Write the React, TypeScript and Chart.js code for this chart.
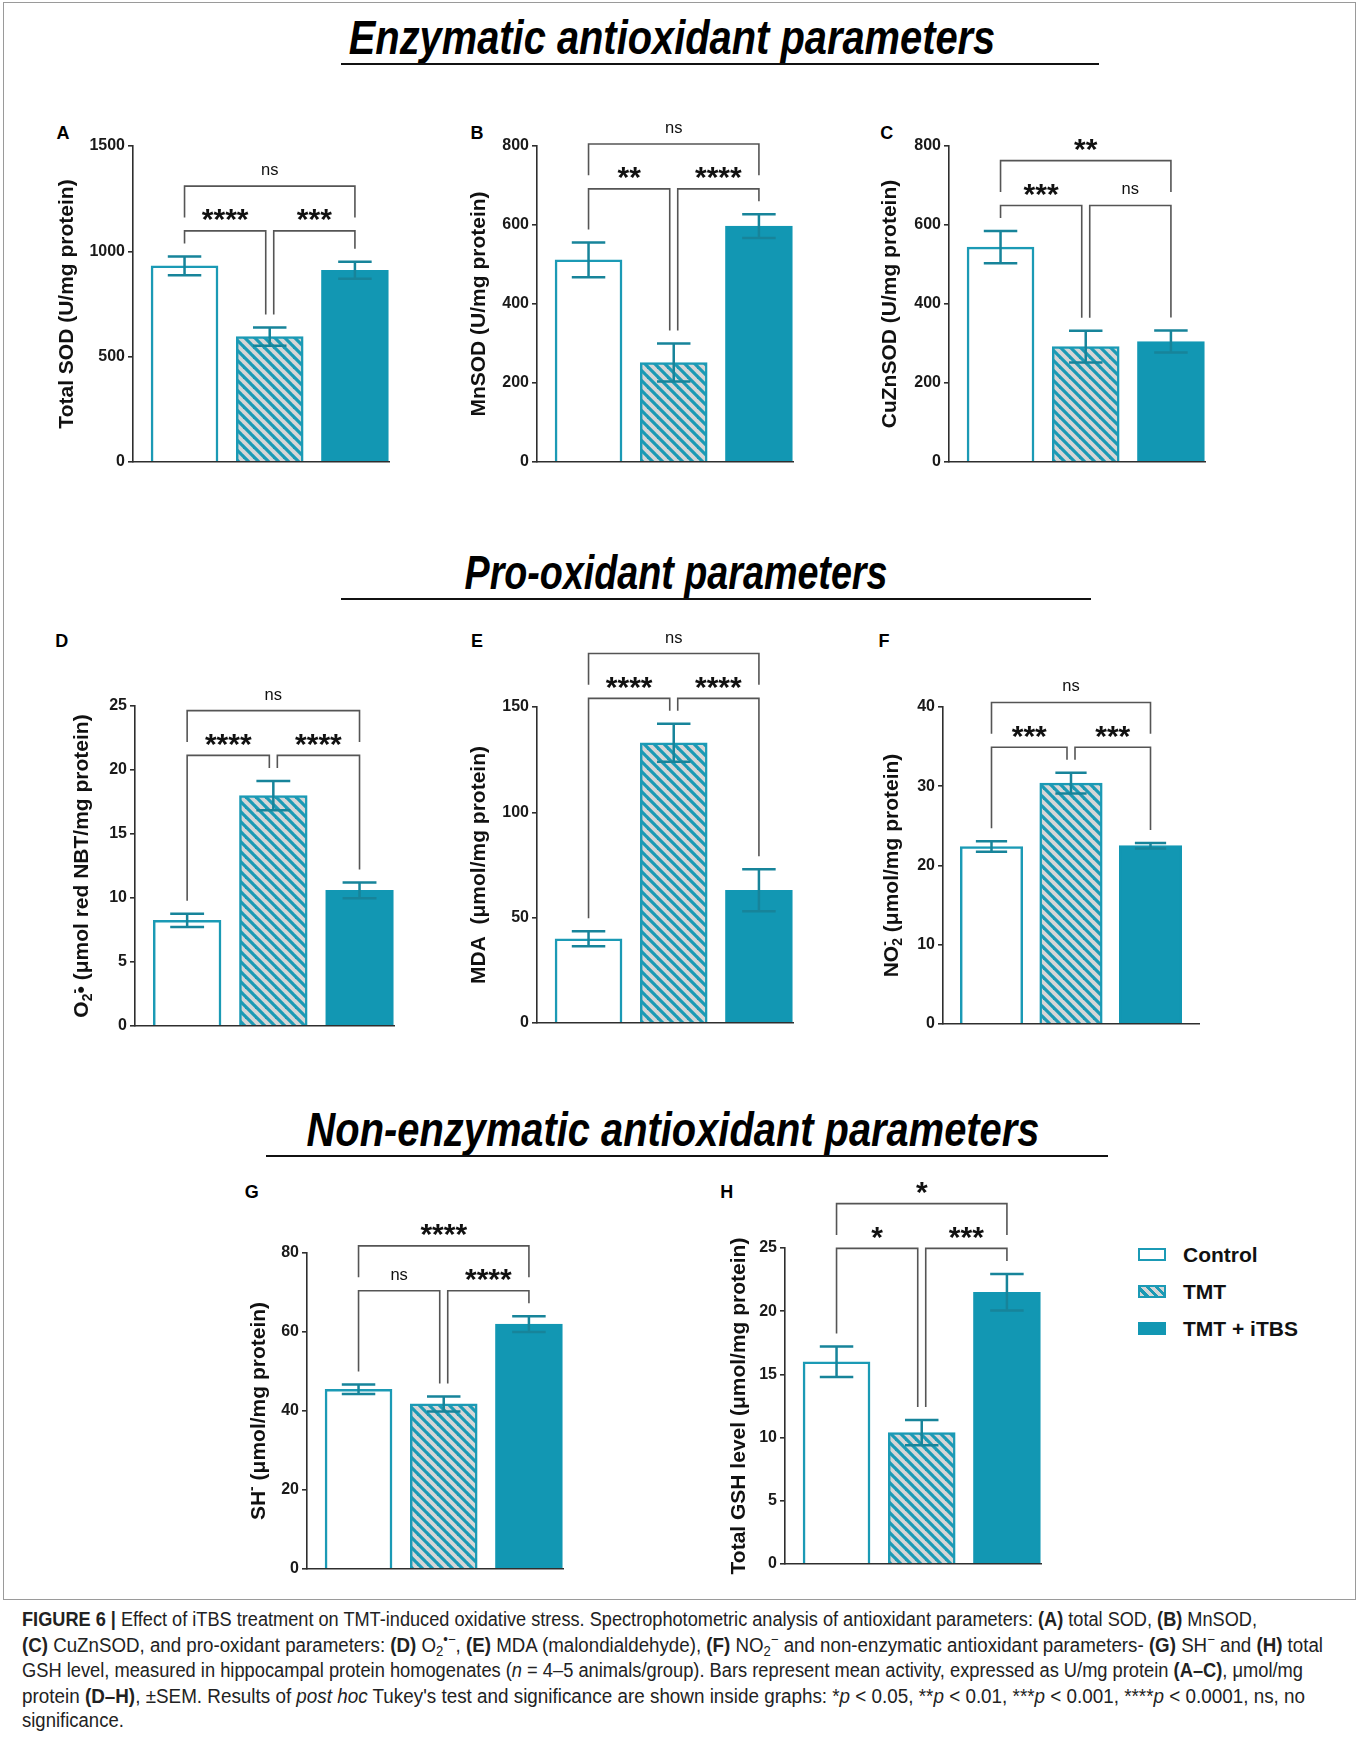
import React, { useEffect, useLayoutEffect, useRef, useState } from 'react';
import { Chart, registerables } from 'chart.js';

Chart.register(...registerables);

// ---------------- DATA ----------------
const GROUPS = ['Control', 'TMT', 'TMT + iTBS'];

// significance order: [Control vs TMT, TMT vs TMT+iTBS, Control vs TMT+iTBS]
const A_MEAN = [931, 595, 910];
const A_SEM = [45, 43, 40];
const A_SIG = ['****', '***', 'ns'];
const A_TICKS = [0, 500, 1000, 1500];

const B_MEAN = [512, 252, 597];
const B_SEM = [44, 48, 30];
const B_SIG = ['**', '****', 'ns'];
const B_TICKS = [0, 200, 400, 600, 800];

const C_MEAN = [544, 292, 305];
const C_SEM = [41, 40, 28];
const C_SIG = ['***', 'ns', '**'];
const C_TICKS = [0, 200, 400, 600, 800];

const D_MEAN = [8.25, 18.0, 10.6];
const D_SEM = [0.52, 1.15, 0.62];
const D_SIG = ['****', '****', 'ns'];
const D_TICKS = [0, 5, 10, 15, 20, 25];

const E_MEAN = [40, 133, 63];
const E_SEM = [3.6, 9, 10];
const E_SIG = ['****', '****', 'ns'];
const E_TICKS = [0, 50, 100, 150];

const F_MEAN = [22.4, 30.4, 22.5];
const F_SEM = [0.65, 1.3, 0.35];
const F_SIG = ['***', '***', 'ns'];
const F_TICKS = [0, 10, 20, 30, 40];

const G_MEAN = [45.5, 41.8, 62];
const G_SEM = [1.2, 1.9, 2.0];
const G_SIG = ['ns', '****', '****'];
const G_TICKS = [0, 20, 40, 60, 80];

const H_MEAN = [16.0, 10.4, 21.5];
const H_SEM = [1.2, 1.0, 1.45];
const H_SIG = ['*', '***', '*'];
const H_TICKS = [0, 5, 10, 15, 20, 25];

type Seg = { t: string; sub?: boolean; sup?: boolean; stack?: boolean };

const A_YLABEL: Seg[] = [{ t: 'Total SOD (U/mg protein)' }];
const B_YLABEL: Seg[] = [{ t: 'MnSOD (U/mg protein)' }];
const C_YLABEL: Seg[] = [{ t: 'CuZnSOD (U/mg protein)' }];
const D_YLABEL: Seg[] = [
  { t: 'O' }, { t: '2', sub: true }, { t: '•' }, { t: '-', sup: true, stack: true },
  { t: ' (μmol red NBT/mg protein)' },
];
const E_YLABEL: Seg[] = [{ t: 'MDA  (μmol/mg protein)' }];
const F_YLABEL: Seg[] = [
  { t: 'NO' }, { t: '2', sub: true }, { t: '-', sup: true, stack: true }, { t: ' (μmol/mg protein)' },
];
const G_YLABEL: Seg[] = [{ t: 'SH' }, { t: '-', sup: true }, { t: ' (μmol/mg protein)' }];
const H_YLABEL: Seg[] = [{ t: 'Total GSH level (μmol/mg protein)' }];

const SECTION_TITLES = [
  'Enzymatic antioxidant parameters',
  'Pro-oxidant parameters',
  'Non-enzymatic antioxidant parameters',
];

// ---------------- STYLE ----------------
const TEAL = '#1297b3';
const TEAL_LINE = '#1b9ab5';
const ERR_COLOR = '#17849a';
const HATCH_BG = '#d6d6d6';
const AXIS_COLOR = '#2e2e2e';
const BRACKET_COLOR = '#555555';
const FONT = '"Liberation Sans", Arial, Helvetica, sans-serif';
const BAR_FRACTION = 0.786;

const W = 130; // y-scale box width
const PT = 100; // top padding (room for brackets)
const PB = 20;
const PR = 24;

type PanelCfg = {
  key: string;
  mean: number[];
  sem: number[];
  sig: string[];
  ticks: number[];
  ylabel: Seg[];
  axisX: number;
  topY: number;
  zeroY: number;
  axisEnd: number;
  xMin: number;
  xMax: number;
  labelOff: number;
  letter: [number, number];
};

const PANELS: PanelCfg[] = [
  { key: 'A', mean: A_MEAN, sem: A_SEM, sig: A_SIG, ticks: A_TICKS, ylabel: A_YLABEL, axisX: 133, topY: 146, zeroY: 462.3, axisEnd: 389, xMin: -0.605, xMax: 2.4, labelOff: 67.7, letter: [63, 133] },
  { key: 'B', mean: B_MEAN, sem: B_SEM, sig: B_SIG, ticks: B_TICKS, ylabel: B_YLABEL, axisX: 537, topY: 146, zeroY: 462.3, axisEnd: 793.3, xMin: -0.605, xMax: 2.4, labelOff: 60, letter: [477, 133] },
  { key: 'C', mean: C_MEAN, sem: C_SEM, sig: C_SIG, ticks: C_TICKS, ylabel: C_YLABEL, axisX: 949, topY: 146, zeroY: 462.3, axisEnd: 1205, xMin: -0.605, xMax: 2.4, labelOff: 61, letter: [886.7, 133] },
  { key: 'D', mean: D_MEAN, sem: D_SEM, sig: D_SIG, ticks: D_TICKS, ylabel: D_YLABEL, axisX: 135, topY: 706, zeroY: 1026, axisEnd: 394, xMin: -0.605, xMax: 2.4, labelOff: 55, letter: [61.7, 640.7] },
  { key: 'E', mean: E_MEAN, sem: E_SEM, sig: E_SIG, ticks: E_TICKS, ylabel: E_YLABEL, axisX: 537, topY: 707, zeroY: 1023.3, axisEnd: 792.7, xMin: -0.605, xMax: 2.4, labelOff: 60, letter: [477, 640.7] },
  { key: 'F', mean: F_MEAN, sem: F_SEM, sig: F_SIG, ticks: F_TICKS, ylabel: F_YLABEL, axisX: 943, topY: 707, zeroY: 1023.7, axisEnd: 1199.3, xMin: -0.61, xMax: 2.61, labelOff: 53, letter: [884, 640.7] },
  { key: 'G', mean: G_MEAN, sem: G_SEM, sig: G_SIG, ticks: G_TICKS, ylabel: G_YLABEL, axisX: 307, topY: 1253, zeroY: 1568.7, axisEnd: 563.3, xMin: -0.605, xMax: 2.4, labelOff: 50, letter: [251.7, 1191.7] },
  { key: 'H', mean: H_MEAN, sem: H_SEM, sig: H_SIG, ticks: H_TICKS, ylabel: H_YLABEL, axisX: 785, topY: 1248, zeroY: 1564, axisEnd: 1041, xMin: -0.605, xMax: 2.4, labelOff: 48, letter: [726.7, 1191.7] },
];

function makeHatch(): CanvasPattern | string {
  const c = document.createElement('canvas');
  const s = 10;
  c.width = s;
  c.height = s;
  const g = c.getContext('2d');
  if (!g) return HATCH_BG;
  g.fillStyle = HATCH_BG;
  g.fillRect(0, 0, s, s);
  g.strokeStyle = TEAL_LINE;
  g.lineWidth = 3.2;
  for (const c0 of [-s, 0, s]) {
    g.beginPath();
    g.moveTo(-2, c0 - 2);
    g.lineTo(s + 2, c0 + s + 2);
    g.stroke();
  }
  return g.createPattern(c, 'repeat') || HATCH_BG;
}

function drawRich(ctx: CanvasRenderingContext2D, segs: Seg[], cx: number, cy: number, size: number) {
  const small = Math.round(size * 0.66);
  const fontOf = (s: Seg) => `bold ${s.sub || s.sup ? small : size}px ${FONT}`;
  const pos: { x: number; w: number }[] = [];
  let x = 0;
  let prevStart = 0;
  let prevW = 0;
  segs.forEach((s) => {
    ctx.font = fontOf(s);
    const w = ctx.measureText(s.t).width;
    if (s.stack) {
      pos.push({ x: prevStart, w });
      x = prevStart + Math.max(prevW, w);
    } else {
      pos.push({ x, w });
      prevStart = x;
      prevW = w;
      x += w;
    }
  });
  const total = x;
  ctx.save();
  ctx.translate(cx, cy);
  ctx.rotate(-Math.PI / 2);
  ctx.fillStyle = '#111';
  ctx.textBaseline = 'alphabetic';
  ctx.textAlign = 'left';
  const base = size * 0.358;
  segs.forEach((s, i) => {
    ctx.font = fontOf(s);
    let dy = base;
    if (s.sub) dy += size * 0.22;
    if (s.sup) dy -= size * 0.42;
    ctx.fillText(s.t, -total / 2 + pos[i].x, dy);
  });
  ctx.restore();
}

function drawCenteredText(ctx: CanvasRenderingContext2D, text: string, cx: number, cy: number) {
  const isNs = /[a-z]/.test(text);
  ctx.font = isNs ? `16.5px ${FONT}` : `bold 30px ${FONT}`;
  ctx.fillStyle = '#111';
  ctx.textAlign = 'center';
  ctx.textBaseline = 'alphabetic';
  const m = ctx.measureText(text);
  const asc = m.actualBoundingBoxAscent;
  const desc = m.actualBoundingBoxDescent;
  ctx.fillText(text, cx, cy + (asc - desc) / 2);
}

function annotPlugin(p: PanelCfg) {
  return {
    id: 'annot' + p.key,
    afterDatasetsDraw(chart: any) {
      const { ctx } = chart;
      const y = chart.scales.y;
      const meta = chart.getDatasetMeta(0);
      ctx.save();
      ctx.strokeStyle = ERR_COLOR;
      ctx.lineWidth = 2.5;
      p.mean.forEach((m, i) => {
        const bar: any = meta.data[i];
        const cx = bar.x;
        const half = bar.width / 4;
        const yt = y.getPixelForValue(m + p.sem[i]);
        const yb = y.getPixelForValue(m - p.sem[i]);
        ctx.beginPath();
        ctx.moveTo(cx, yt);
        ctx.lineTo(cx, yb);
        ctx.moveTo(cx - half, yt);
        ctx.lineTo(cx + half, yt);
        ctx.moveTo(cx - half, yb);
        ctx.lineTo(cx + half, yb);
        ctx.stroke();
      });
      ctx.restore();
    },
    afterDraw(chart: any) {
      const { ctx, chartArea } = chart;
      const x = chart.scales.x;
      const y = chart.scales.y;
      const cxs = p.mean.map((_, i) => x.getPixelForValue(i));
      const errTop = p.mean.map((m, i) => y.getPixelForValue(m + p.sem[i]));
      const L = Math.min(...errTop) - 25.5;
      const T = L - 44.8;
      const br = [
        { x1: cxs[0], x2: cxs[1] - 4, yy: L, e1: errTop[0] - 13, e2: errTop[1] - 13, label: p.sig[0] },
        { x1: cxs[1] + 4, x2: cxs[2], yy: L, e1: errTop[1] - 13, e2: errTop[2] - 13, label: p.sig[1] },
        { x1: cxs[0], x2: cxs[2], yy: T, e1: L - 13.5, e2: L - 13.5, label: p.sig[2] },
      ];
      ctx.save();
      ctx.strokeStyle = BRACKET_COLOR;
      ctx.lineWidth = 1.6;
      br.forEach((b) => {
        ctx.beginPath();
        ctx.moveTo(b.x1, b.e1);
        ctx.lineTo(b.x1, b.yy);
        ctx.lineTo(b.x2, b.yy);
        ctx.lineTo(b.x2, b.e2);
        ctx.stroke();
        drawCenteredText(ctx, b.label, (b.x1 + b.x2) / 2, b.yy - 15.5);
      });
      drawRich(ctx, p.ylabel, chartArea.left - p.labelOff, (chartArea.top + chartArea.bottom) / 2, 21);
      ctx.restore();
    },
  };
}

function Panel({ p }: { p: PanelCfg }) {
  const ref = useRef<HTMLCanvasElement>(null);
  const ax = Math.round(p.axisX);
  const left = ax - W;
  const top = Math.round(p.topY) - PT;
  const areaH = Math.round(p.zeroY - p.topY);
  const areaW = Math.round(p.axisEnd - p.axisX);
  const width = W + areaW + PR;
  const height = PT + areaH + PB;

  useEffect(() => {
    const canvas = ref.current;
    if (!canvas) return;
    const hatch = makeHatch();
    const maxTick = p.ticks[p.ticks.length - 1];
    const barPx = (BAR_FRACTION * areaW) / (p.xMax - p.xMin);
    const chart = new Chart(canvas, {
      type: 'bar',
      data: {
        datasets: [
          {
            label: p.key,
            data: p.mean.map((v, i) => ({ x: i, y: v })) as any,
            backgroundColor: ['#ffffff', hatch as any, TEAL],
            borderColor: [TEAL_LINE, TEAL_LINE, TEAL],
            borderWidth: 2.5,
            borderSkipped: 'bottom',
            barThickness: barPx,
          },
        ],
      },
      options: {
        responsive: false,
        animation: false,
        events: [],
        layout: { padding: { top: PT, bottom: PB, left: 0, right: PR } },
        plugins: { legend: { display: false }, tooltip: { enabled: false }, title: { display: false } },
        scales: {
          x: {
            type: 'linear',
            offset: false,
            min: p.xMin,
            max: p.xMax,
            afterBuildTicks: (s: any) => {
              s.ticks = GROUPS.map((_, i) => ({ value: i }));
            },
            afterFit: (s: any) => {
              s.height = 0;
            },
            ticks: { display: false },
            grid: { display: false, offset: false },
            border: { display: true, color: AXIS_COLOR, width: 1.6, z: 1 },
          },
          y: {
            type: 'linear',
            min: 0,
            max: maxTick,
            afterBuildTicks: (s: any) => {
              s.ticks = p.ticks.map((v) => ({ value: v }));
            },
            afterFit: (s: any) => {
              s.width = W;
            },
            ticks: {
              callback: (v: any) => String(v),
              font: { family: FONT, size: 16, weight: 'bold' },
              color: '#1a1a1a',
              padding: 3,
            },
            grid: { display: true, drawOnChartArea: false, drawTicks: true, tickLength: 5, color: AXIS_COLOR, lineWidth: 1.6 },
            border: { display: true, color: AXIS_COLOR, width: 1.6, z: 1 },
          },
        },
      } as any,
      plugins: [annotPlugin(p)],
    });
    return () => chart.destroy();
  }, []);

  return (
    <canvas
      ref={ref}
      width={width}
      height={height}
      style={{ position: 'absolute', left, top, width, height }}
    />
  );
}

const subS: React.CSSProperties = { fontSize: '0.7em', verticalAlign: '-0.3em', lineHeight: 0 };
const supS: React.CSSProperties = { fontSize: '0.7em', verticalAlign: '0.55em', lineHeight: 0 };

const CAPTION_TOPS = [1606.5, 1632.5, 1657.5, 1683.5, 1707.5];
const CAPTION_WIDTHS = [1235, 1301, 1281, 1283, 0];

function Caption() {
  const refs = useRef<(HTMLSpanElement | null)[]>([]);
  const [scales, setScales] = useState<number[]>([1, 1, 1, 1, 1]);
  useLayoutEffect(() => {
    const s = refs.current.map((el, i) => {
      if (!el || !CAPTION_WIDTHS[i]) return 0;
      const w = el.getBoundingClientRect().width;
      return w > 0 ? CAPTION_WIDTHS[i] / w : 1;
    });
    const valid = s.filter((v) => v > 0);
    const avg = valid.reduce((a, b) => a + b, 0) / (valid.length || 1);
    setScales(s.map((v) => (v > 0 ? v : avg)));
  }, []);
  const lines: React.ReactNode[] = [
    <>
      <b>FIGURE 6 |</b> Effect of iTBS treatment on TMT-induced oxidative stress. Spectrophotometric analysis of antioxidant parameters: <b>(A)</b> total SOD, <b>(B)</b> MnSOD,
    </>,
    <>
      <b>(C)</b> CuZnSOD, and pro-oxidant parameters: <b>(D)</b> O<span style={subS}>2</span><span style={supS}>•−</span>, <b>(E)</b> MDA (malondialdehyde), <b>(F)</b> NO<span style={subS}>2</span><span style={supS}>−</span> and non-enzymatic antioxidant parameters- <b>(G)</b> SH<span style={supS}>−</span> and <b>(H)</b> total
    </>,
    <>
      GSH level, measured in hippocampal protein homogenates (<i>n</i> = 4–5 animals/group). Bars represent mean activity, expressed as U/mg protein <b>(A–C)</b>, μmol/mg
    </>,
    <>
      protein <b>(D–H)</b>, ±SEM. Results of <i>post hoc</i> Tukey's test and significance are shown inside graphs: *<i>p</i> &lt; 0.05, **<i>p</i> &lt; 0.01, ***<i>p</i> &lt; 0.001, ****<i>p</i> &lt; 0.0001, ns, no
    </>,
    <>significance.</>,
  ];
  return (
    <>
      {lines.map((ln, i) => (
        <div
          key={i}
          style={{ position: 'absolute', top: CAPTION_TOPS[i], left: 22, height: 25, lineHeight: '25px', whiteSpace: 'nowrap' }}
        >
          <span
            ref={(el) => {
              refs.current[i] = el;
            }}
            style={{
              display: 'inline-block',
              fontSize: 20,
              color: '#222',
              transformOrigin: 'left center',
              transform: `scaleX(${scales[i]})`,
            }}
          >
            {ln}
          </span>
        </div>
      ))}
    </>
  );
}

function SectionTitle({ text, cx, baseline, lineY, x1, x2, sx }: { text: string; cx: number; baseline: number; lineY: number; x1: number; x2: number; sx: number }) {
  const fs = 48;
  return (
    <>
      <div
        style={{
          position: 'absolute',
          left: cx,
          top: baseline - 0.8465 * fs,
          fontSize: fs,
          lineHeight: 1,
          fontWeight: 'bold',
          fontStyle: 'italic',
          whiteSpace: 'nowrap',
          color: '#000',
          transform: `translateX(-50%) scaleX(${sx})`,
        }}
      >
        {text}
      </div>
      <div style={{ position: 'absolute', left: x1, top: lineY - 1, width: x2 - x1, height: 2, background: '#111' }} />
    </>
  );
}

function LegendItem({ label, top, kind }: { label: string; top: number; kind: number }) {
  const bg =
    kind === 0
      ? '#ffffff'
      : kind === 1
      ? `repeating-linear-gradient(45deg, ${HATCH_BG} 0px, ${HATCH_BG} 3.5px, ${TEAL_LINE} 3.5px, ${TEAL_LINE} 6.5px)`
      : TEAL;
  return (
    <>
      <div
        style={{
          position: 'absolute',
          left: 1138,
          top: top - 6.5,
          width: 28,
          height: 13,
          boxSizing: 'border-box',
          border: `2.5px solid ${kind === 2 ? TEAL : TEAL_LINE}`,
          background: bg,
        }}
      />
      <div
        style={{
          position: 'absolute',
          left: 1183,
          top: top - 10.5,
          fontSize: 21,
          lineHeight: '21px',
          fontWeight: 'bold',
          color: '#111',
          whiteSpace: 'nowrap',
        }}
      >
        {label}
      </div>
    </>
  );
}

export default function App() {
  return (
    <div
      style={{
        position: 'absolute',
        left: 0,
        top: 0,
        width: 1360,
        height: 1737,
        background: '#fff',
        overflow: 'hidden',
        fontFamily: FONT,
      }}
    >
      {/* figure frame */}
      <div style={{ position: 'absolute', left: 3, top: 2, width: 1353, height: 1598, border: '1px solid #9a9a9a', boxSizing: 'border-box' }} />

      <SectionTitle text={SECTION_TITLES[0]} cx={672} baseline={55} lineY={64} x1={341} x2={1099} sx={0.83} />
      <SectionTitle text={SECTION_TITLES[1]} cx={676} baseline={590} lineY={599} x1={341} x2={1091} sx={0.785} />
      <SectionTitle text={SECTION_TITLES[2]} cx={673} baseline={1147} lineY={1156} x1={266} x2={1108} sx={0.83} />

      {PANELS.map((p) => (
        <div
          key={'L' + p.key}
          style={{
            position: 'absolute',
            left: p.letter[0],
            top: p.letter[1],
            fontSize: 18,
            lineHeight: 1,
            fontWeight: 'bold',
            color: '#000',
            transform: 'translate(-50%, -50%)',
          }}
        >
          {p.key}
        </div>
      ))}

      {PANELS.map((p) => (
        <Panel key={p.key} p={p} />
      ))}

      <LegendItem label={GROUPS[0]} top={1254.5} kind={0} />
      <LegendItem label={GROUPS[1]} top={1291.7} kind={1} />
      <LegendItem label={GROUPS[2]} top={1328.3} kind={2} />

      <Caption />
    </div>
  );
}
